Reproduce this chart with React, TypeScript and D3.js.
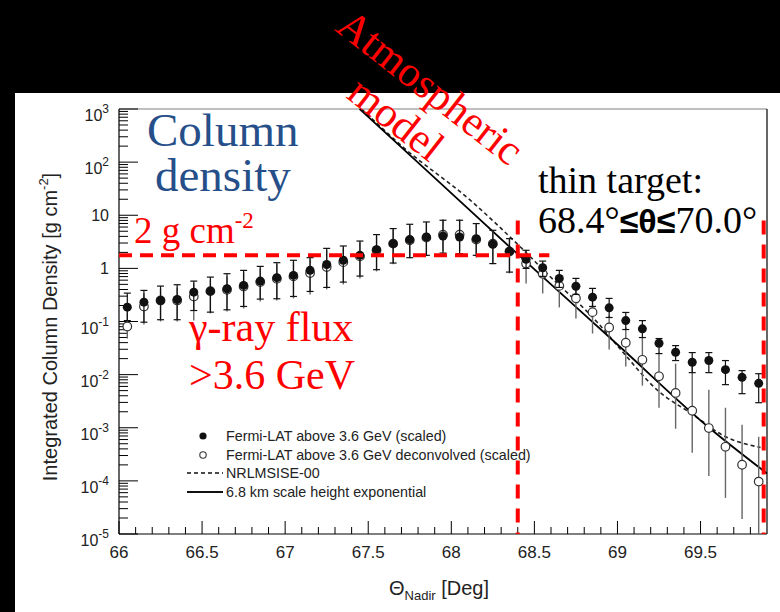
import * as d3 from 'd3';

// bin centres, Theta_Nadir [deg]
const THETA = [
  66.05, 66.15, 66.25, 66.35, 66.45, 66.55, 66.65, 66.75, 66.85, 66.95,
  67.05, 67.15, 67.25, 67.35, 67.45, 67.55, 67.65, 67.75, 67.85, 67.95,
  68.05, 68.15, 68.25, 68.35, 68.45, 68.55, 68.65, 68.75, 68.85, 68.95,
  69.05, 69.15, 69.25, 69.35, 69.45, 69.55, 69.65, 69.75, 69.85,
];

// Fermi-LAT above 3.6 GeV (scaled)
const FILLED = [
  0.186, 0.231, 0.249, 0.26, 0.357, 0.373, 0.414, 0.478, 0.576, 0.668,
  0.738, 0.917, 1.18, 1.42, 1.76, 2.25, 2.92, 3.48, 3.9, 4.07,
  3.9, 3.63, 2.84, 2.09, 1.48, 1.03, 0.648, 0.461, 0.287, 0.181,
  0.104, 0.0728, 0.039, 0.0264, 0.0171, 0.0184, 0.0124, 0.0089, 0.00685,
];
const FILLED_HI = [
  0.342, 0.385, 0.464, 0.492, 0.576, 0.685, 0.794, 0.917, 1.09, 1.28,
  1.42, 1.59, 2.38, 2.64, 3.27, 4.32, 5.61, 6.76, 7.48, 8.05,
  8.05, 6.97, 5.21, 3.63, 2.19, 1.37, 0.917, 0.648, 0.42, 0.272,
  0.148, 0.104, 0.0478, 0.0352, 0.026, 0.026, 0.0184, 0.0119, 0.0104,
];
const FILLED_LO = [
  0.104, 0.097, 0.108, 0.108, 0.161, 0.15, 0.166, 0.192, 0.264, 0.268,
  0.296, 0.368, 0.438, 0.552, 0.716, 0.945, 1.26, 1.59, 1.76, 1.94,
  1.89, 1.76, 1.23, 0.851, 1.0, 0.706, 0.438, 0.323, 0.192, 0.119,
  0.0706, 0.0499, 0.0249, 0.0184, 0.0109, 0.0109, 0.00648, 0.00438, 0.00296,
];

// Fermi-LAT above 3.6 GeV deconvolved (scaled)
const OPEN = [
  0.0805, 0.192, 0.249, 0.249, 0.296, 0.373, 0.396, 0.457, 0.552, 0.639,
  0.706, 0.815, 1.06, 1.31, 1.68, 2.19, 2.92, 3.38, 3.79, 4.32,
  4.32, 3.48, 2.92, 2.07, 1.23, 0.788, 0.468, 0.274, 0.15, 0.0771,
  0.0398, 0.019, 0.00929, 0.00452, 0.00209, 0.000987, 0.000438, 0.000201, 0.000097,
];
const OPEN_HI = [
  0.148, 0.337, 0.42, 0.438, 0.521, 0.62, 0.706, 0.841, 1.0, 1.19,
  1.3, 1.48, 2.19, 2.49, 3.1, 4.02, 5.44, 6.48, 7.38, 8.41,
  8.41, 6.76, 5.21, 3.53, 2.19, 1.3, 0.706, 0.42, 0.228, 0.13,
  0.0771, 0.0499, 0.026, 0.0161, 0.0148, 0.00521, 0.00238, 0.00114, 0.000676,
];
const OPEN_LO = [
  0.0478, 0.0877, 0.1, 0.1, 0.104, 0.142, 0.154, 0.176, 0.238, 0.249,
  0.272, 0.323, 0.402, 0.499, 0.648, 0.877, 1.19, 1.55, 1.76, 2.09,
  2.09, 1.61, 1.19, 0.805, 0.521, 0.337, 0.184, 0.114, 0.0594, 0.0296,
  0.0142, 0.0062, 0.00238, 0.000958, 0.000337, 0.000124, 0.0000478, 0.0000192, 0.00001,
];

// model curves [theta, column density]
const NRLMSISE: [number, number][] = [
  [67.46, 1000], [67.711, 190], [68.114, 19.2], [68.416, 2.52], [68.577, 0.794],
  [68.878, 0.097], [69.018, 0.03], [69.239, 0.00514], [69.45, 0.00181],
  [69.64, 0.000706], [69.861, 0.000425],
];
const EXPO: [number, number][] = [
  [67.448, 1000], [67.9, 50.5], [68.396, 1.89], [69.018, 0.0327],
  [69.55, 0.00101], [69.9, 0.000138],
];

const X_TICKS = [66, 66.5, 67, 67.5, 68, 68.5, 69, 69.5];
const X_TICK_LABELS = ['66', '66.5', '67', '67.5', '68', '68.5', '69', '69.5'];
const X_MINOR = [
  66.1, 66.2, 66.3, 66.4, 66.6, 66.7, 66.8, 66.9, 67.1, 67.2, 67.3, 67.4,
  67.6, 67.7, 67.8, 67.9, 68.1, 68.2, 68.3, 68.4, 68.6, 68.7, 68.8, 68.9,
  69.1, 69.2, 69.3, 69.4, 69.6, 69.7, 69.8,
];
const Y_DECADES = [-5, -4, -3, -2, -1, 0, 1, 2, 3];
const Y_TICK_BASE = ['10', '10', '10', '10', '10', '1', '10', '10', '10'];
const Y_TICK_SUP = ['-5', '-4', '-3', '-2', '-1', '', '', '2', '3'];

const LEGEND = [
  'Fermi-LAT above 3.6 GeV (scaled)',
  'Fermi-LAT above 3.6 GeV deconvolved (scaled)',
  'NRLMSISE-00',
  '6.8 km scale height exponential',
];

// annotation guides (data coordinates)
const THIN_TARGET = [68.4, 69.88];
const TWO_GCM = 1.76;

const SANS = '"Liberation Sans", Arial, Helvetica, sans-serif';
const SERIF = '"Liberation Serif", "Times New Roman", serif';

export default function App() {
  const width = 780;
  const height = 612;
  const m = { left: 119, right: 767, top: 109, bottom: 534 };

  const x = d3.scaleLinear().domain([66, 69.9]).range([m.left, m.right]);
  const y = d3.scaleLog().domain([1e-5, 1e3]).range([m.bottom, m.top]);

  const line = d3.line<[number, number]>()
    .x((d) => x(d[0]))
    .y((d) => y(d[1]))
    .curve(d3.curveMonotoneX);

  const yMinor: number[] = [];
  Y_DECADES.slice(0, -1).forEach((e) => {
    for (let k = 2; k <= 9; k++) yMinor.push(k * Math.pow(10, e));
  });

  const cap = 3.5;

  return (
    <svg width={width} height={height} style={{ display: 'block', position: 'absolute', left: 0, top: 0 }}>
      <defs>
        <clipPath id="plot">
          <rect x={m.left} y={m.top} width={m.right - m.left} height={m.bottom - m.top} />
        </clipPath>
      </defs>
      <rect x={0} y={0} width={width} height={height} fill="#000" />
      <rect x={15} y={93} width={width - 15} height={height - 93} fill="#fff" />

      {/* frame */}
      <line x1={m.left} x2={m.right} y1={m.top} y2={m.top} stroke="#808080" strokeWidth={1.2} />
      <line x1={m.left} x2={m.left} y1={m.top} y2={m.bottom} stroke="#000" strokeWidth={1.2} />
      <line x1={m.right} x2={m.right} y1={m.top} y2={m.bottom} stroke="#000" strokeWidth={1.2} />
      <line x1={m.left} x2={m.right} y1={m.bottom} y2={m.bottom} stroke="#000" strokeWidth={1.2} />

      {/* y ticks */}
      {Y_DECADES.map((e) => (
        <line key={`yd${e}`} x1={m.left} x2={m.left + 19} y1={y(Math.pow(10, e))} y2={y(Math.pow(10, e))} stroke="#000" />
      ))}
      {yMinor.map((v, i) => (
        <line key={`ym${i}`} x1={m.left} x2={m.left + 9} y1={y(v)} y2={y(v)} stroke="#000" />
      ))}
      {Y_DECADES.map((e, i) => (
        <text
          key={`yl${e}`}
          x={109}
          y={y(Math.pow(10, e)) + (Y_TICK_SUP[i] ? 12 : 6)}
          textAnchor="end"
          fontFamily={SANS}
          fontSize={16}
          fill="#222"
        >
          {Y_TICK_BASE[i]}
          {Y_TICK_SUP[i] && (
            <tspan dy={-8} fontSize={12}>{Y_TICK_SUP[i]}</tspan>
          )}
        </text>
      ))}

      {/* x ticks */}
      {X_TICKS.map((t) => (
        <line key={`xt${t}`} x1={x(t)} x2={x(t)} y1={m.bottom} y2={m.bottom - 13} stroke="#000" />
      ))}
      {X_MINOR.map((t) => (
        <line key={`xm${t}`} x1={x(t)} x2={x(t)} y1={m.bottom} y2={m.bottom - 7} stroke="#000" />
      ))}
      {X_TICKS.map((t, i) => (
        <text key={`xl${t}`} x={x(t)} y={558} textAnchor="middle" fontFamily={SANS} fontSize={17} fill="#222">
          {X_TICK_LABELS[i]}
        </text>
      ))}

      {/* axis titles */}
      <text x={439} y={595} textAnchor="middle" fontFamily={SANS} fontSize={20} fill="#222">
        Θ<tspan fontSize={13} dy={5}>Nadir</tspan>
        <tspan dy={-5}> [Deg]</tspan>
      </text>
      <text
        transform="translate(57,327) rotate(-90)"
        textAnchor="middle"
        fontFamily={SANS}
        fontSize={20}
        fill="#222"
      >
        Integrated Column Density [g cm<tspan dy={-9} fontSize={13}>-2</tspan>
        <tspan dy={9}>]</tspan>
      </text>

      <g clipPath="url(#plot)">
        {/* models */}
        <path d={line(NRLMSISE) ?? ''} fill="none" stroke="#222" strokeWidth={1.6} strokeDasharray="4,3" />
        <path d={line(EXPO) ?? ''} fill="none" stroke="#000" strokeWidth={1.8} />

        {/* deconvolved */}
        {THETA.map((t, i) => (
          <line key={`oe${i}`} x1={x(t)} x2={x(t)} y1={y(OPEN_HI[i])} y2={y(OPEN_LO[i])} stroke="#666" strokeWidth={1.4} />
        ))}
        {THETA.map((t, i) => (
          <circle key={`oc${i}`} cx={x(t)} cy={y(OPEN[i])} r={4.3} fill="#fff" stroke="#333" strokeWidth={1.2} />
        ))}

        {/* raw */}
        {THETA.map((t, i) => (
          <g key={`fe${i}`} stroke="#111" strokeWidth={1.2}>
            <line x1={x(t)} x2={x(t)} y1={y(FILLED_HI[i])} y2={y(FILLED_LO[i])} />
            <line x1={x(t) - cap} x2={x(t) + cap} y1={y(FILLED_HI[i])} y2={y(FILLED_HI[i])} />
            <line x1={x(t) - cap} x2={x(t) + cap} y1={y(FILLED_LO[i])} y2={y(FILLED_LO[i])} />
          </g>
        ))}
        {THETA.map((t, i) => (
          <circle key={`fc${i}`} cx={x(t)} cy={y(FILLED[i])} r={4.5} fill="#111" />
        ))}
      </g>

      {/* legend */}
      <g fontFamily={SANS} fontSize={14.3} fill="#222">
        <circle cx={203} cy={436} r={3.6} fill="#111" />
        <circle cx={203} cy={455} r={3.2} fill="#fff" stroke="#333" strokeWidth={1.1} />
        <line x1={187} x2={223} y1={473} y2={473} stroke="#111" strokeWidth={1.6} strokeDasharray="4,3" />
        <line x1={187} x2={223} y1={492} y2={492} stroke="#111" strokeWidth={1.8} />
        {LEGEND.map((s, i) => (
          <text key={s} x={226} y={436 + i * 18.6 + 5}>{s}</text>
        ))}
      </g>

      {/* red guides */}
      <line
        x1={x(66)} x2={x(68.59)} y1={y(TWO_GCM)} y2={y(TWO_GCM)}
        stroke="#ff0000" strokeWidth={4} strokeDasharray="13,8"
      />
      {THIN_TARGET.map((t) => (
        <line
          key={`tt${t}`}
          x1={x(t)} x2={x(t)} y1={y(8)} y2={m.bottom}
          stroke="#ff0000" strokeWidth={4} strokeDasharray="14,10"
        />
      ))}

      {/* annotations */}
      <g fontFamily={SERIF} fill="#264f8a" fontSize={47}>
        <text x={147} y={146}>Column</text>
        <text x={155} y={191}>density</text>
      </g>
      <text x={134} y={243} fontFamily={SERIF} fontSize={37} fill="#ff0000">
        2 g cm<tspan dy={-15} fontSize={23}>-2</tspan>
      </text>
      <g fontFamily={SERIF} fill="#ff0000" fontSize={42}>
        <text x={189} y={341}>γ-ray flux</text>
        <text x={189} y={389}>&gt;3.6 GeV</text>
      </g>
      <g fontFamily={SERIF} fill="#ff0000" fontSize={43}>
        <text transform="translate(334,30) rotate(38)">Atmospheric</text>
        <text transform="translate(345,97) rotate(38)">model</text>
      </g>
      <g fontFamily={SERIF} fill="#000" fontSize={38}>
        <text x={538} y={193}>thin target:</text>
        <text x={538} y={233}>
          68.4°<tspan fontFamily={SANS} fontWeight="bold" fontSize={34}>≤θ≤</tspan>70.0°
        </text>
      </g>
    </svg>
  );
}
